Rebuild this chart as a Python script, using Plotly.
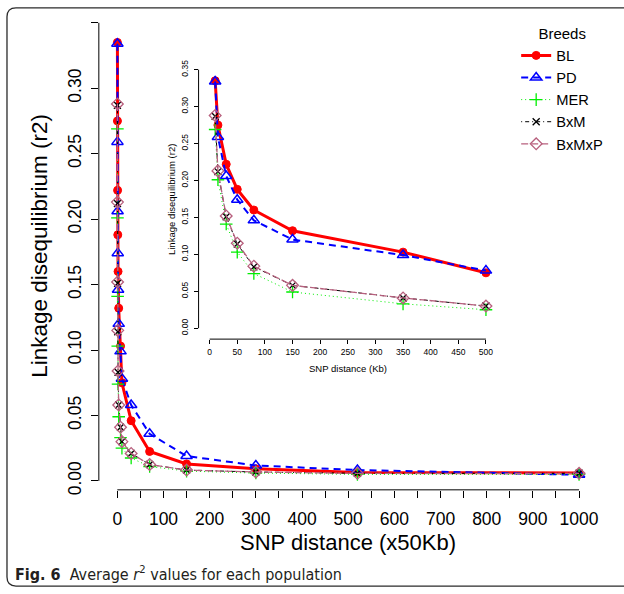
import plotly.graph_objects as go

# ---------------- data ----------------
snp_dist_x50kb = [0.2, 0.3, 0.6, 1, 1.6, 3, 7, 10, 30, 70, 150, 300, 520, 1000]
inset_kb = [10, 15, 30, 50, 80, 150, 350, 500]

BL = [0.335, 0.275, 0.222, 0.188, 0.160, 0.132, 0.103, 0.075, 0.046, 0.0225, 0.013, 0.0093, 0.0065, 0.006]
PD = [0.334, 0.259, 0.206, 0.174, 0.146, 0.120, 0.099, 0.078, 0.058, 0.036, 0.019, 0.0118, 0.0083, 0.0047]
MER = [0.269, 0.201, 0.141, 0.103, 0.074, 0.049, 0.033, 0.025, 0.0175, 0.011, 0.0075, 0.006, 0.005, 0.005]
BxM = [0.287, 0.212, 0.151, 0.114, 0.083, 0.058, 0.041, 0.030, 0.021, 0.0125, 0.0083, 0.0068, 0.0058, 0.0058]
BxMxP = [0.288, 0.213, 0.152, 0.115, 0.084, 0.058, 0.041, 0.030, 0.021, 0.0125, 0.0083, 0.0068, 0.0058, 0.0058]

main_xticks = list(range(0, 1001, 50))
main_xlabels = [str(v) if v % 100 == 0 else "" for v in main_xticks]
main_yticks = [0, 0.05, 0.10, 0.15, 0.20, 0.25, 0.30, 0.35]
main_ylabels = ["0.00", "0.05", "0.10", "0.15", "0.20", "0.25", "0.30", ""]
inset_xticks = list(range(0, 501, 50))
inset_yticks = [0, 0.05, 0.10, 0.15, 0.20, 0.25, 0.30, 0.35]
inset_ylabels = ["0.00", "0.05", "0.10", "0.15", "0.20", "0.25", "0.30", "0.35"]

# ---------------- styling ----------------
W, H = 624, 594
def px(x):
    return x / W
def py(y):
    return 1 - y / H

FONT = "Liberation Sans, Arial, Helvetica, sans-serif"

series = [
    dict(name="BL", y=BL, color="#FF0000", width=3, dash="solid",
         marker=dict(symbol="circle", size=8, color="#FF0000", line=dict(width=1, color="#FF0000"))),
    dict(name="PD", y=PD, color="#0000FF", width=2, dash="7px,5px",
         marker=dict(symbol="triangle-up-open", size=10, color="#0000FF", line=dict(width=1.5, color="#0000FF"))),
    dict(name="MER", y=MER, color="#00EE00", width=1, dash="1px,3px",
         marker=dict(symbol="cross-thin-open", size=9, color="#00EE00", line=dict(width=1.3, color="#00EE00"))),
    dict(name="BxM", y=BxM, color="#000000", width=1, dash="1px,3px,4px,3px",
         marker=dict(symbol="x-thin-open", size=7, color="#000000", line=dict(width=1.3, color="#000000"))),
    dict(name="BxMxP", y=BxMxP, color="#B8607E", width=1.3, dash="7px,3px",
         marker=dict(symbol="diamond-open", size=9, color="#B8607E", line=dict(width=1.3, color="#B8607E"))),
]

fig = go.Figure()
for s in series:
    fig.add_trace(go.Scatter(
        x=snp_dist_x50kb, y=s["y"], name=s["name"], mode="lines+markers",
        line=dict(color=s["color"], width=s["width"], dash=s["dash"]),
        marker=s["marker"], xaxis="x", yaxis="y", showlegend=True))
n_in = len(inset_kb)
for s in series:
    fig.add_trace(go.Scatter(
        x=inset_kb, y=s["y"][:n_in], name=s["name"], mode="lines+markers",
        line=dict(color=s["color"], width=s["width"], dash=s["dash"]),
        marker=s["marker"], xaxis="x2", yaxis="y2", showlegend=False))

# axes geometry (pixels)
mx0, mx1, my_top, my_bot = 99, 598.5, 21, 494
ix0, ix1, iy_top, iy_bot = 198.9, 497.8, 60, 342

axis_common = dict(showgrid=False, zeroline=False, showline=False, ticks="outside",
                   tickcolor="black", tickwidth=1, color="black")

fig.update_layout(
    width=W, height=H, autosize=False,
    margin=dict(l=0, r=0, t=0, b=0),
    paper_bgcolor="white", plot_bgcolor="rgba(0,0,0,0)",
    font=dict(family=FONT, color="black"),
    xaxis=dict(domain=[px(mx0), px(mx1)], range=[-40, 1040], anchor="y",
               tickmode="array", tickvals=main_xticks, ticktext=main_xlabels,
               ticklen=7, tickfont=dict(size=17.5), ticklabelstandoff=6, **axis_common),
    yaxis=dict(domain=[py(my_bot), py(my_top)], range=[-0.00682, 0.3515], anchor="x",
               tickmode="array", tickvals=main_yticks, ticktext=main_ylabels,
               ticklen=7, tickangle=-90, tickfont=dict(size=17.5), ticklabelstandoff=3, **axis_common),
    xaxis2=dict(domain=[px(ix0), px(ix1)], range=[-20, 520], anchor="y2",
                tickmode="array", tickvals=inset_xticks,
                ticklen=4, tickfont=dict(size=8.5), ticklabelstandoff=1, **axis_common),
    yaxis2=dict(domain=[py(iy_bot), py(iy_top)], range=[-0.01477, 0.3638], anchor="x2",
                tickmode="array", tickvals=inset_yticks, ticktext=inset_ylabels,
                ticklen=4, tickangle=-90, tickfont=dict(size=8.5), ticklabelstandoff=2, **axis_common),
    legend=dict(x=px(517), y=py(20), xanchor="left", yanchor="top",
                bgcolor="rgba(0,0,0,0)", borderwidth=0, itemwidth=30,
                font=dict(size=14.7, family=FONT),
                title=dict(text="Breeds", side="top center", font=dict(size=15, family=FONT))),
)

# R-style axis lines (span first to last tick)
shapes = [
    dict(type="line", xref="x", yref="y domain", x0=0, x1=1000, y0=0, y1=0, line=dict(color="black", width=1)),
    dict(type="line", xref="x domain", yref="y", x0=0, x1=0, y0=0, y1=0.35, line=dict(color="black", width=1)),
    dict(type="line", xref="x2", yref="y2 domain", x0=0, x1=500, y0=0, y1=0, line=dict(color="black", width=1)),
    dict(type="line", xref="x2 domain", yref="y2", x0=0, x1=0, y0=0, y1=0.35, line=dict(color="black", width=1)),
]
# rounded frame around figure
fx0, fy0, fy1, r = 7, 8, 591, 9
fx1 = 640
path = (f"M {px(fx1)},{py(fy0)} L {px(fx0 + r)},{py(fy0)} "
        f"Q {px(fx0)},{py(fy0)} {px(fx0)},{py(fy0 + r)} "
        f"L {px(fx0)},{py(fy1 - r)} Q {px(fx0)},{py(fy1)} {px(fx0 + r)},{py(fy1)} "
        f"L {px(fx1)},{py(fy1)}")
shapes.append(dict(type="path", xref="paper", yref="paper", path=path,
                   line=dict(color="#2b2b2b", width=1.3)))
fig.update_layout(shapes=shapes)

annotations = [
    dict(text="SNP distance (x50Kb)", x=px((mx0 + mx1) / 2), y=py(547), xref="paper", yref="paper",
         showarrow=False, xanchor="center", yanchor="middle", font=dict(size=22, family=FONT)),
    dict(text="Linkage disequilibrium (r2)", x=px(40), y=py(248), xref="paper", yref="paper",
         showarrow=False, xanchor="center", yanchor="middle", textangle=-90, font=dict(size=22.5, family=FONT)),
    dict(text="SNP distance (Kb)", x=px((ix0 + ix1) / 2), y=py(372), xref="paper", yref="paper",
         showarrow=False, xanchor="center", yanchor="middle", font=dict(size=9.5, family=FONT)),
    dict(text="Linkage disequilibrium (r2)", x=px(172), y=py((iy_top + iy_bot) / 2), xref="paper", yref="paper",
         showarrow=False, xanchor="center", yanchor="middle", textangle=-90, font=dict(size=9.5, family=FONT)),
    dict(text="<b>Fig. 6</b>  Average <i>r</i><sup>2</sup> values for each population",
         x=px(13), y=py(578), xref="paper", yref="paper", showarrow=False,
         xanchor="left", yanchor="middle",
         font=dict(size=16, color="#231f20",
                   family="Liberation Sans Narrow, DejaVu Sans Condensed, Roboto Condensed, Roboto, sans-serif")),
]
fig.update_layout(annotations=annotations)

fig.write_html("out.html", config={"displayModeBar": False},
               post_script="document.body.style.margin='0px';")
